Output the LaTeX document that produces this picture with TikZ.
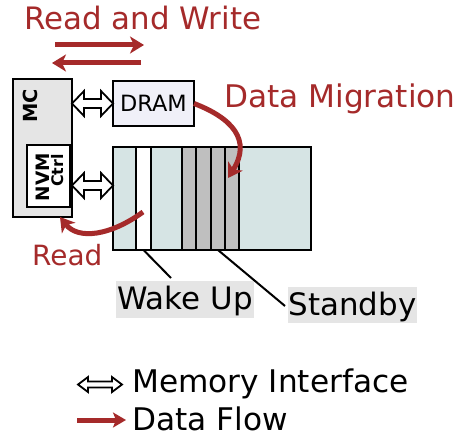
\documentclass[tikz,border=0pt]{standalone}
\usepackage{fontspec}
\setmainfont{DejaVu Sans}
\usetikzlibrary{arrows.meta,calc}
\definecolor{flow}{RGB}{165,42,42}
\definecolor{mcfill}{RGB}{229,229,229}
\definecolor{dramfill}{RGB}{240,240,248}
\definecolor{nvmfill}{RGB}{214,228,228}
\definecolor{colgray}{RGB}{191,191,191}
\definecolor{lblgray}{RGB}{229,229,229}
\tikzset{
  box/.style={draw=black, line width=2.2bp, inner sep=0pt, outer sep=0pt, anchor=north west},
  colbox/.style={draw=black, line width=2bp, inner sep=0pt, outer sep=0pt, anchor=north west, minimum height=103bp},
  memif/.style args={#1/#2/#3}{draw=black, fill=white, line width=1.8bp, line join=miter,
    to path={let \p1=(\tikztostart), \p2=(\tikztotarget) in
      (\x1,\y1) -- (\x1+#1,\y1+#2) -- (\x1+#1,\y1+#3) -- (\x2-#1,\y2+#3)
      -- (\x2-#1,\y2+#2) -- (\x2,\y2) -- (\x2-#1,\y2-#2) -- (\x2-#1,\y2-#3)
      -- (\x1+#1,\y1-#3) -- (\x1+#1,\y1-#2) -- cycle}},
  dataflow/.style={draw=flow, line width=5bp, -{Stealth[length=14bp,width=17bp,inset=4bp]}},
  redtxt/.style={text=flow, inner sep=0pt, anchor=base west},
  blktxt/.style={text=black, inner sep=0pt, anchor=base west},
  graylbl/.style={fill=lblgray, inner sep=0pt, outer sep=0pt, font=\fontsize{31}{36}\selectfont},
  rotlbl/.style={rotate=90, inner sep=0pt, anchor=base east}
}
\begin{document}
\begin{tikzpicture}[x=1bp,y=-1bp]
\useasboundingbox[fill=white] (0,0) rectangle (455,439);
% boxes
\node[box, fill=mcfill, minimum width=59bp, minimum height=138bp] (mc) at (13,79) {};
\node[rotlbl, font=\fontsize{19.5}{20}\bfseries\selectfont] (mclbl) at (37.5,89) {MC};
\node[box, fill=white, minimum width=43bp, minimum height=62bp] (ctrl) at (27,145) {};
\node[rotlbl, font=\fontsize{18.5}{20}\bfseries\selectfont] (nvmlbl) at (49.5,153) {NVM};
\node[rotlbl, font=\fontsize{16}{18}\bfseries\selectfont] (ctrllbl) at (63,154) {Ctrl};
\node[box, fill=dramfill, minimum width=81bp, minimum height=45bp, font=\fontsize{22.5}{26}\selectfont] (dram) at (113,81) {DRAM};
\node[box, fill=nvmfill, minimum width=198bp, minimum height=103bp] (nvm) at (113,147) {};
\node[colbox, fill=white, minimum width=15bp] (wk) at (136,147) {};
\node[colbox, fill=colgray, minimum width=14bp] (s1) at (182,147) {};
\node[colbox, fill=colgray, minimum width=15bp] (s2) at (196,147) {};
\node[colbox, fill=colgray, minimum width=14bp] (s3) at (211,147) {};
\node[colbox, fill=colgray, minimum width=14bp] (s4) at (225,147) {};
\draw[black, line width=2.2bp] (nvm.north west) rectangle (nvm.south east);
% interfaces
\draw[memif=12bp/12.5bp/4.5bp] (mc.east |- dram.west) to (dram.west);
\coordinate (ifl) at (mc.east |- 0,185.5);
\coordinate (ifr) at (nvm.west |- 0,185.5);
\draw[memif=12bp/12.5bp/4.5bp] (ifl) to (ifr);
% labels
\node[graylbl, minimum width=138bp, minimum height=37bp, text height=28bp, text depth=9bp, anchor=north west] (wake) at (116,281) {Wake Up};
\node[graylbl, minimum width=129bp, minimum height=36bp, text height=28bp, text depth=8bp, anchor=north west] (stby) at (288,287) {Standby};
\draw[black, line width=2bp] (wk.south) -- ($(wake.north west)+(55,-3)$);
\draw[black, line width=2bp] (s3.south) -- ($(stby.west)+(-3,1)$);
% red texts
\node[redtxt, font=\fontsize{31}{36}\selectfont] (rw) at (24,29.5) {Read and Write};
\node[redtxt, font=\fontsize{31.3}{36}\selectfont] (dm) at (224,108) {Data Migration};
\node[redtxt, font=\fontsize{28}{34}\selectfont] (rd) at (32,265) {Read};
% read/write arrows
\coordinate (rwa1) at (55,45);
\coordinate (rwa2) at (144,45);
\coordinate (rwb1) at (141,63);
\coordinate (rwb2) at (52,63);
\draw[dataflow] (rwa1) -- (rwa2);
\draw[dataflow] (rwb1) -- (rwb2);
% data migration
\coordinate (dmend) at (228,178);
\draw[dataflow] (dram.east) .. controls (232,118) and (252,140) .. (dmend);
% read
\coordinate (rdstart) at (143,212);
\coordinate (rdend) at (60,217);
\draw[dataflow] (rdstart) .. controls (110,236) and (78,240) .. (rdend);
% legend
\coordinate (lg1) at (78,384.5);
\coordinate (lg2) at (122,384.5);
\draw[memif=10bp/7.5bp/3bp] (lg1) to (lg2);
\node[blktxt, font=\fontsize{31.3}{36}\selectfont] (lgt1) at (132,392.5) {Memory Interface};
\coordinate (lg3) at (77,420);
\coordinate (lg4) at (126,420);
\draw[dataflow, -{Stealth[length=13bp,width=15bp,inset=3bp]}] (lg3) -- (lg4);
\node[blktxt, font=\fontsize{31.3}{36}\selectfont] (lgt2) at (132,430.5) {Data Flow};
\end{tikzpicture}
\end{document}
